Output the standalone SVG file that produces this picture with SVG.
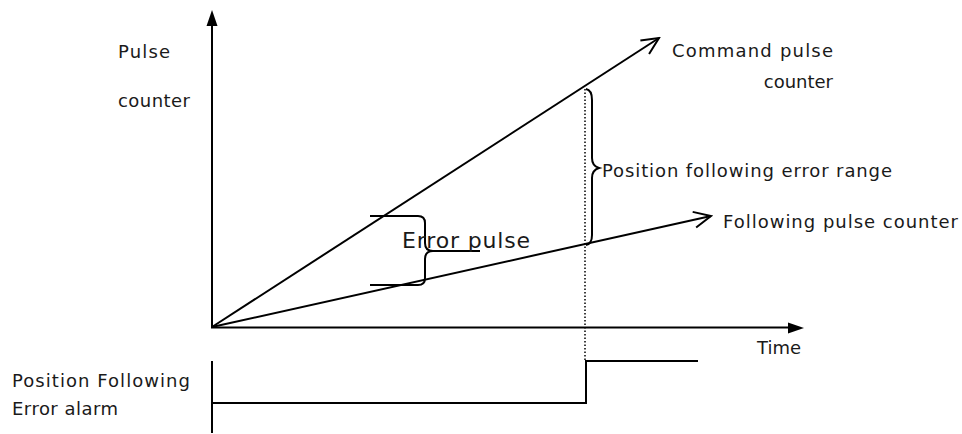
<svg xmlns="http://www.w3.org/2000/svg" width="962" height="434" viewBox="0 0 962 434">
<style>
text{font-family:"DejaVu Sans","Liberation Sans",sans-serif;font-size:18px;fill:#1a1a1a}
.ln{stroke:#000;stroke-width:2;fill:none}
.dot{stroke:#000;stroke-width:1.5;stroke-dasharray:1.5 2;fill:none}
</style>
<defs>
<marker id="vopen" viewBox="0 0 20 20" refX="18" refY="10" markerWidth="20" markerHeight="20" markerUnits="userSpaceOnUse" orient="auto">
<path d="M1,2 L18,10 L1,18" fill="none" stroke="#000" stroke-width="2"/>
</marker>
</defs>
<rect width="962" height="434" fill="#fff"/>
<g id="axes">
<line class="ln" x1="212" y1="24" x2="212" y2="328"/>
<polygon points="212,10 206.5,26 217.5,26" fill="#000"/>
<line class="ln" x1="211" y1="327.5" x2="790" y2="327.5"/>
<polygon points="804,328 788,322.5 788,333.5" fill="#000"/>
</g>
<g id="connectors">
<line class="ln" x1="212" y1="327" x2="659" y2="38" marker-end="url(#vopen)"/>
<line class="ln" x1="212" y1="327" x2="711" y2="216" marker-end="url(#vopen)"/>
<line class="dot" x1="585" y1="89" x2="585" y2="362"/>
<path class="ln" d="M586,89 Q592,90 592,100 L592,158 Q592,166 599,168 Q592,170 592,178 L592,235 Q592,244 586,245"/>
<path class="ln" d="M370,216 L418,216 Q425,216 425,223 L425,243 Q425,251 433,251 L480,251 M455,251 L433,251 Q425,251 425,259 L425,278 Q425,285 418,285 L370,285"/>
</g>
<g id="alarm-signal">
<line class="ln" x1="212" y1="361" x2="212" y2="433"/>
<polyline class="ln" points="212,403 586,403 586,361 698,361"/>
</g>
<g id="label-pulse-counter">
<text x="118" y="58" textLength="52">Pulse</text>
<text x="118" y="107" textLength="72">counter</text>
</g>
<g id="label-command">
<text x="672" y="57" textLength="161">Command pulse</text>
<text x="833" y="88" text-anchor="end">counter</text>
</g>
<g id="label-following">
<text x="723" y="228" textLength="235">Following pulse counter</text>
</g>
<g id="label-range">
<text x="602" y="177" textLength="290">Position following error range</text>
</g>
<g id="label-error-pulse">
<text x="402" y="248" style="font-size:22px" textLength="128">Error pulse</text>
</g>
<g id="label-time">
<text x="757" y="354">Time</text>
</g>
<g id="label-alarm">
<text x="12" y="387" textLength="178">Position Following</text>
<text x="12" y="415" textLength="106">Error alarm</text>
</g>
</svg>
